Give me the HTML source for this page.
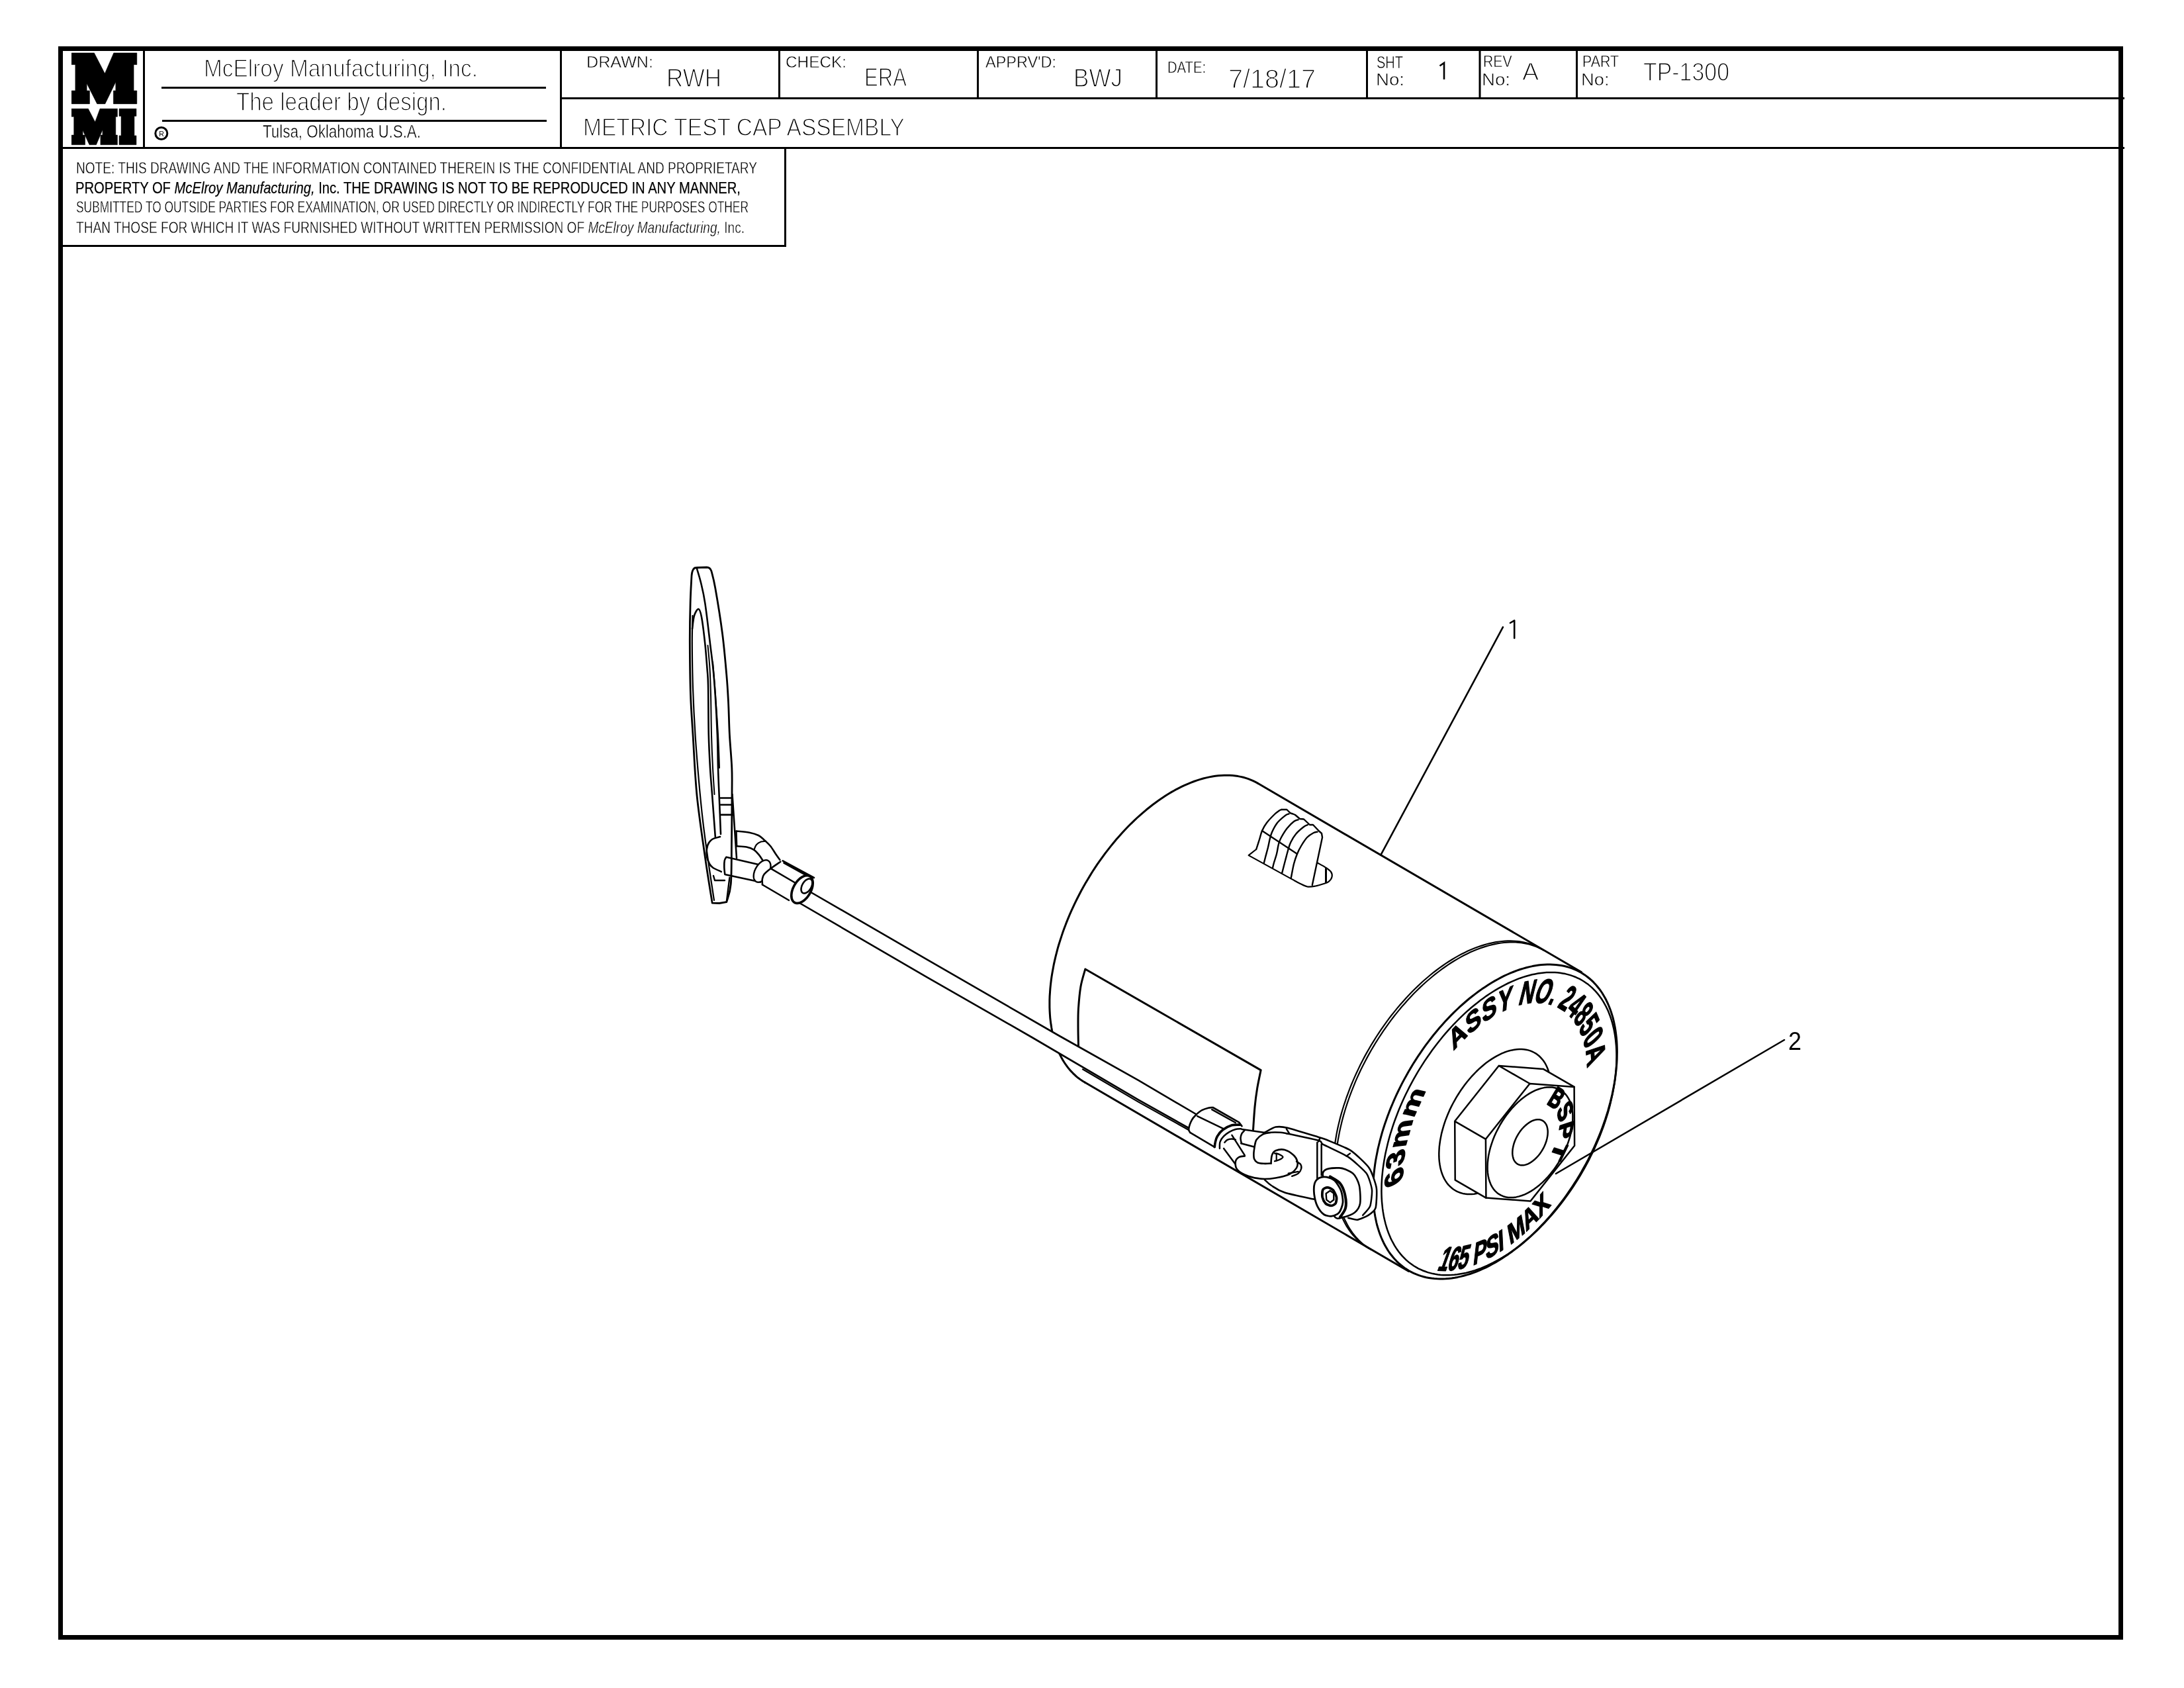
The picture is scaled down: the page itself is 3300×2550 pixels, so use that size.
<!DOCTYPE html>
<html><head><meta charset="utf-8"><title>METRIC TEST CAP ASSEMBLY</title>
<style>
html,body{margin:0;padding:0;background:#fff;width:3300px;height:2550px;overflow:hidden}
svg{display:block;filter:grayscale(1);font-family:"Liberation Sans",sans-serif}
</style></head><body>
<svg width="3300" height="2550" viewBox="0 0 3300 2550">
<rect width="3300" height="2550" fill="#fff"/>
<!-- outer border -->
<rect x="91.5" y="73.5" width="3113" height="2400" fill="none" stroke="#000" stroke-width="7"/>
<!-- title block lines -->
<g stroke="#000" stroke-width="3" fill="none">
<line x1="95" y1="223.5" x2="3210" y2="223.5"/>
<line x1="849" y1="148.5" x2="3210" y2="148.5"/>
<line x1="217.5" y1="77" x2="217.5" y2="222"/>
<line x1="847.5" y1="77" x2="847.5" y2="222"/>
<line x1="1177.5" y1="77" x2="1177.5" y2="147"/>
<line x1="1477.5" y1="77" x2="1477.5" y2="147"/>
<line x1="1747.5" y1="77" x2="1747.5" y2="147"/>
<line x1="2065.5" y1="77" x2="2065.5" y2="147"/>
<line x1="2236" y1="77" x2="2236" y2="147"/>
<line x1="2382.5" y1="77" x2="2382.5" y2="147"/>
<line x1="244" y1="132.5" x2="825" y2="132.5"/>
<line x1="245" y1="182.5" x2="826" y2="182.5"/>
<line x1="1186.5" y1="225" x2="1186.5" y2="373"/>
<line x1="95" y1="371.5" x2="1188" y2="371.5"/>
</g>
<!-- logo -->
<g transform="translate(100,76) scale(0.0865)" fill="#000" stroke="#000" stroke-width="6" stroke-linejoin="round">
<path d="M95,45 L490,45 L675,405 L830,45 L1235,45 L1235,250 L1180,250 L1180,705 L1235,705 L1235,935 L825,935 L825,705 L865,705 L865,555 L680,935 L540,935 L360,580 L360,705 L410,705 L410,935 L95,935 L95,705 L160,705 L160,250 L95,250 Z"/>
<path d="M95,1020 L385,1020 L505,1250 L590,1020 L895,1020 L895,1160 L865,1160 L865,1480 L895,1480 L895,1650 L600,1650 L600,1480 L635,1480 L635,1390 L525,1650 L405,1650 L290,1400 L290,1480 L330,1480 L330,1650 L95,1650 L95,1480 L135,1480 L135,1160 L95,1160 Z"/>
<path d="M925,1020 L1225,1020 L1225,1150 L1190,1150 L1190,1490 L1225,1490 L1225,1650 L925,1650 L925,1490 L960,1490 L960,1150 L925,1150 Z"/>
</g>
<!-- registered mark -->
<circle cx="243.8" cy="201.5" r="9" fill="none" stroke="#000" stroke-width="3"/>
<text x="244" y="205.5" font-size="10.5" text-anchor="middle">R</text>
<!-- title texts -->
<g fill="#000" stroke="#fff" stroke-width="1.1" style="opacity:0.999">
<text x="308" y="115.5" font-size="37.8" textLength="414" lengthAdjust="spacingAndGlyphs" stroke-width="1.45">McElroy Manufacturing, Inc.</text>
<text x="357" y="167" font-size="38.5" textLength="318" lengthAdjust="spacingAndGlyphs" stroke-width="1.45">The leader by design.</text>
<text x="397" y="207.5" font-size="27" textLength="239" lengthAdjust="spacingAndGlyphs" stroke-width="0.5">Tulsa, Oklahoma U.S.A.</text>
<text x="886" y="102" font-size="24.7" textLength="101" lengthAdjust="spacingAndGlyphs" stroke-width="0.5">DRAWN:</text>
<text x="1007" y="130.5" font-size="39" textLength="83" lengthAdjust="spacingAndGlyphs" stroke-width="1.45">RWH</text>
<text x="1187" y="102" font-size="24.7" textLength="92" lengthAdjust="spacingAndGlyphs" stroke-width="0.5">CHECK:</text>
<text x="1306" y="129.5" font-size="38" textLength="64" lengthAdjust="spacingAndGlyphs" stroke-width="1.45">ERA</text>
<text x="1489" y="102" font-size="24.7" textLength="107" lengthAdjust="spacingAndGlyphs" stroke-width="0.5">APPRV'D:</text>
<text x="1622" y="130.5" font-size="39" textLength="74" lengthAdjust="spacingAndGlyphs" stroke-width="1.45">BWJ</text>
<text x="1764" y="110" font-size="24.7" textLength="58" lengthAdjust="spacingAndGlyphs" stroke-width="0.5">DATE:</text>
<text x="1856" y="132.5" font-size="40" textLength="132" lengthAdjust="spacingAndGlyphs" stroke-width="1.45">7/18/17</text>
<text x="2080" y="102.5" font-size="25.4" textLength="40" lengthAdjust="spacingAndGlyphs" stroke-width="0.5">SHT</text>
<text x="2079" y="128.75" font-size="25.4" textLength="43" lengthAdjust="spacingAndGlyphs" stroke-width="0.5">No:</text>

<text x="2241" y="100.75" font-size="24.7" textLength="43.5" lengthAdjust="spacingAndGlyphs" stroke-width="0.5">REV</text>
<text x="2239" y="128.75" font-size="25.4" textLength="43" lengthAdjust="spacingAndGlyphs" stroke-width="0.5">No:</text>
<text x="2300" y="121" font-size="37.8" stroke-width="1.45">A</text>
<text x="2391" y="100.75" font-size="24.7" textLength="55" lengthAdjust="spacingAndGlyphs" stroke-width="0.5">PART</text>
<text x="2389" y="128.75" font-size="25.4" textLength="42.5" lengthAdjust="spacingAndGlyphs" stroke-width="0.5">No:</text>
<text x="2483" y="121.75" font-size="38.9" textLength="130" lengthAdjust="spacingAndGlyphs" stroke-width="1.45">TP-1300</text>
<text x="881" y="204.5" font-size="37.8" textLength="486" lengthAdjust="spacingAndGlyphs" stroke-width="1.45">METRIC TEST CAP ASSEMBLY</text>
<text x="115" y="262" font-size="23.3" textLength="1029" lengthAdjust="spacingAndGlyphs" stroke-width="0.35">NOTE: THIS DRAWING AND THE INFORMATION CONTAINED THEREIN IS THE CONFIDENTIAL AND PROPRIETARY</text>
<text x="114" y="291.75" font-size="23.8" textLength="1005" lengthAdjust="spacingAndGlyphs" stroke="#000" stroke-width="0.25">PROPERTY OF <tspan font-style="italic">McElroy Manufacturing,</tspan> Inc. THE DRAWING IS NOT TO BE REPRODUCED IN ANY MANNER,</text>
<text x="115" y="321.25" font-size="23.3" textLength="1016" lengthAdjust="spacingAndGlyphs" stroke-width="0.35">SUBMITTED TO OUTSIDE PARTIES FOR EXAMINATION, OR USED DIRECTLY OR INDIRECTLY FOR THE PURPOSES OTHER</text>
<text x="115" y="351.75" font-size="23.3" textLength="1010" lengthAdjust="spacingAndGlyphs" stroke-width="0.35">THAN THOSE FOR WHICH IT WAS FURNISHED WITHOUT WRITTEN PERMISSION OF <tspan font-style="italic">McElroy Manufacturing,</tspan> Inc.</text>
</g>
<path d="M2175.5,99.5 L2182,95 L2182,120" fill="none" stroke="#000" stroke-width="2.6" stroke-linejoin="miter"/>
<!-- DRAWING -->
<g id="drawing" fill="none" stroke="#000" stroke-width="3" stroke-linecap="round" stroke-linejoin="round">
<defs><path id="tp1" d="M-74.35,-13.11 A75.5,75.5 0 0,1 57.84,-48.53"/><path id="tp2" d="M-43.31,61.85 A75.5,75.5 0 0,1 -75.21,-6.58"/><path id="tp3" d="M16.41,93.06 A94.5,94.5 0 0,0 93.06,16.41"/><path id="tp4" d="M-8.21,-22.55 A24,24 0 0,1 23.18,6.21"/></defs>
<path d="M1900.5,1183.3 L1897.1,1181.4 L1893.5,1179.7 L1889.9,1178.1 L1886.2,1176.7 L1882.4,1175.4 L1878.6,1174.3 L1874.6,1173.4 L1870.6,1172.6 L1866.6,1172.0 L1862.4,1171.6 L1858.2,1171.3 L1854.0,1171.2 L1849.7,1171.2 L1845.3,1171.4 L1840.9,1171.8 L1836.4,1172.3 L1831.9,1173.0 L1827.3,1173.9 L1822.7,1174.9 L1818.1,1176.0 L1813.4,1177.4 L1808.7,1178.9 L1804.0,1180.5 L1799.2,1182.4 L1794.5,1184.3 L1789.7,1186.4 L1784.9,1188.7 L1780.1,1191.1 L1775.2,1193.7 L1770.4,1196.4 L1765.6,1199.3 L1760.8,1202.3 L1756.0,1205.5 L1751.2,1208.8 L1746.4,1212.2 L1741.6,1215.8 L1736.9,1219.5 L1732.1,1223.3 L1727.4,1227.3 L1722.8,1231.3 L1718.1,1235.5 L1713.5,1239.9 L1708.9,1244.3 L1704.4,1248.8 L1699.9,1253.5 L1695.5,1258.3 L1691.1,1263.2 L1686.8,1268.1 L1682.5,1273.2 L1678.3,1278.4 L1674.2,1283.6 L1670.1,1288.9 L1666.1,1294.4 L1662.1,1299.9 L1658.2,1305.4 L1654.4,1311.1 L1650.7,1316.8 L1647.1,1322.6 L1643.6,1328.4 L1640.1,1334.3 L1636.7,1340.2 L1633.4,1346.2 L1630.3,1352.3 L1627.2,1358.3 L1624.2,1364.4 L1621.3,1370.6 L1618.5,1376.7 L1615.8,1382.9 L1613.2,1389.1 L1610.7,1395.4 L1608.4,1401.6 L1606.1,1407.8 L1604.0,1414.1 L1602.0,1420.3 L1600.0,1426.5 L1598.2,1432.7 L1596.6,1438.9 L1595.0,1445.1 L1593.6,1451.2 L1592.2,1457.4 L1591.1,1463.5 L1590.0,1469.5 L1589.0,1475.5 L1588.2,1481.5 L1587.5,1487.4 L1586.9,1493.3 L1586.5,1499.1 L1586.1,1504.8 L1585.9,1510.5 L1585.9,1516.1 L1585.9,1521.6 L1586.1,1527.1 L1586.4,1532.5 L1586.8,1537.8 L1587.4,1543.0 L1588.1,1548.1 L1588.9,1553.1 L1589.8,1558.0 L1590.9,1562.8 L1592.0,1567.5 L1593.3,1572.2 L1594.7,1576.6 L1596.3,1581.0 L1597.9,1585.3 L1599.7,1589.4 L1601.6,1593.4 L1603.6,1597.3 L1605.7,1601.1 L1608.0,1604.7 L1610.3,1608.2 L1612.8,1611.6 L1615.3,1614.8 L1618.0,1617.9 L1620.8,1620.8 L1623.7,1623.6 L1626.6,1626.3 L1629.7,1628.8 L1632.9,1631.1 L1636.1,1633.3 L1639.5,1635.3"/>
<path d="M1900.5,1183.3 L2389.5,1468.5"/>
<path d="M1639.5,1635.3 L2128.5,1920.5"/>
<path d="M1905.1,1616.6 C1904.2,1621.3 1901.0,1635.8 1899.5,1645.0 C1898.0,1654.2 1897.0,1661.7 1896.0,1672.0 C1895.0,1682.3 1893.9,1701.2 1893.5,1707.0 M1905.1,1616.6 L1639.8,1464 M1639.8,1464.0 C1638.7,1468.3 1634.7,1480.2 1633.0,1490.0 C1631.3,1499.8 1630.2,1512.7 1629.5,1523.0 C1628.8,1533.3 1629.0,1542.5 1629.0,1552.0 C1629.0,1561.5 1629.4,1575.3 1629.5,1580.0"/>
<path d="M1991.1,1303.7 C1993.0,1304.8 1999.4,1308.1 2002.7,1310.3 C2006.0,1312.5 2009.3,1314.6 2011.0,1317.0 C2012.6,1319.3 2013.2,1321.9 2012.6,1324.4 C2012.1,1326.9 2009.9,1330.1 2007.6,1331.9 C2005.4,1333.7 2002.7,1334.1 1999.4,1335.2 C1996.0,1336.3 1991.8,1337.8 1987.7,1338.5 C1983.7,1339.2 1979.3,1340.0 1975.3,1339.4 C1971.3,1338.7 1967.4,1336.2 1963.7,1334.4 C1960.0,1332.6 1954.7,1329.5 1952.9,1328.6 L1952.9,1328.6 L1886.6,1292.1 L1898.2,1283.0" stroke-width="2.2"/>
<path d="M1936.3,1223.0 C1935.8,1223.2 1934.7,1223.3 1933.0,1224.5 C1931.3,1225.7 1929.2,1226.9 1926.0,1230.0 C1922.8,1233.1 1917.2,1238.8 1914.0,1243.0 C1910.8,1247.2 1908.8,1250.8 1907.0,1255.0 C1905.2,1259.2 1904.5,1263.3 1903.0,1268.0 C1901.5,1272.7 1899.0,1280.5 1898.2,1283.0" stroke-width="2.4"/>
<path d="M1947.6,1229.4 C1946.7,1229.8 1944.9,1229.7 1942.0,1232.0 C1939.1,1234.3 1933.3,1238.8 1930.0,1243.0 C1926.7,1247.2 1923.9,1252.8 1922.0,1257.0 C1920.1,1261.2 1919.6,1264.2 1918.6,1268.0 C1917.6,1271.8 1917.1,1275.5 1916.0,1280.0 C1914.9,1284.5 1913.0,1291.0 1912.0,1295.0 C1911.0,1299.0 1910.2,1302.2 1909.8,1303.7" stroke-width="2.4"/>
<path d="M1961.5,1238.3 C1960.4,1238.8 1957.8,1238.9 1955.0,1241.0 C1952.2,1243.1 1948.2,1247.0 1945.0,1251.0 C1941.8,1255.0 1938.2,1261.0 1936.0,1265.0 C1933.8,1269.0 1933.2,1270.8 1932.0,1275.0 C1930.8,1279.2 1930.2,1285.3 1929.0,1290.0 C1927.8,1294.7 1926.0,1299.5 1925.0,1303.0 C1924.0,1306.5 1923.3,1309.8 1923.0,1311.2" stroke-width="2.4"/>
<path d="M1976.0,1246.0 C1975.0,1246.5 1973.0,1246.7 1970.0,1249.0 C1967.0,1251.3 1961.3,1256.0 1958.0,1260.0 C1954.7,1264.0 1952.0,1268.8 1950.0,1273.0 C1948.0,1277.2 1947.3,1280.5 1946.0,1285.0 C1944.7,1289.5 1943.5,1294.4 1942.0,1300.0 C1940.5,1305.6 1938.0,1315.5 1937.2,1318.6" stroke-width="2.4"/>
<path d="M1990.6,1256.6 C1989.7,1256.8 1987.6,1256.6 1985.0,1258.0 C1982.4,1259.4 1978.2,1261.7 1975.0,1265.0 C1971.8,1268.3 1968.5,1273.8 1966.0,1278.0 C1963.5,1282.2 1961.8,1285.5 1960.0,1290.0 C1958.2,1294.5 1956.5,1299.0 1955.0,1305.0 C1953.5,1311.0 1951.5,1322.6 1950.8,1326.1" stroke-width="2.4"/>
<path d="M1936.3,1223.0 L1944.3,1223.0 L1950.0,1228.5 L1953.5,1229.5 L1957.0,1231.0 L1964.0,1237.0 L1970.0,1237.5 L1979.0,1246.0 L1984.0,1246.0 L1993.0,1255.5 L1997.0,1259.0 L1998.0,1265.0 L1982.8,1336.9" stroke-width="2.4"/>
<path d="M1907.0,1255.0 L1960.0,1290.0" stroke-width="2.4"/>
<path d="M2003.5,1312.0 L2003.5,1332.7" stroke-width="3"/>
<path d="M2328.9,1433.5 L2325.4,1431.6 L2321.9,1429.9 L2318.3,1428.3 L2314.6,1426.9 L2310.8,1425.6 L2307.0,1424.5 L2303.0,1423.6 L2299.0,1422.8 L2294.9,1422.2 L2290.8,1421.8 L2286.6,1421.5 L2282.3,1421.4 L2278.0,1421.4 L2273.7,1421.6 L2269.2,1422.0 L2264.8,1422.5 L2260.2,1423.2 L2255.7,1424.1 L2251.1,1425.1 L2246.4,1426.2 L2241.8,1427.6 L2237.1,1429.1 L2232.3,1430.7 L2227.6,1432.6 L2222.8,1434.5 L2218.0,1436.6 L2213.2,1438.9 L2208.4,1441.3 L2203.6,1443.9 L2198.8,1446.6 L2194.0,1449.5 L2189.2,1452.5 L2184.4,1455.7 L2179.6,1459.0 L2174.8,1462.4 L2170.0,1466.0 L2165.2,1469.7 L2160.5,1473.5 L2155.8,1477.5 L2151.1,1481.5 L2146.5,1485.7 L2141.9,1490.1 L2137.3,1494.5 L2132.8,1499.0 L2128.3,1503.7 L2123.9,1508.5 L2119.5,1513.4 L2115.2,1518.3 L2110.9,1523.4 L2106.7,1528.6 L2102.5,1533.8 L2098.4,1539.1 L2094.4,1544.6 L2090.5,1550.1 L2086.6,1555.6 L2082.8,1561.3 L2079.1,1567.0 L2075.5,1572.8 L2071.9,1578.6 L2068.5,1584.5 L2065.1,1590.4 L2061.8,1596.4 L2058.6,1602.5 L2055.5,1608.5 L2052.6,1614.6 L2049.7,1620.8 L2046.9,1626.9 L2044.2,1633.1 L2041.6,1639.3 L2039.1,1645.6 L2036.8,1651.8 L2034.5,1658.0 L2032.4,1664.3 L2030.3,1670.5 L2028.4,1676.7 L2026.6,1682.9 L2024.9,1689.1 L2023.4,1695.3 L2021.9,1701.4 L2020.6,1707.6 L2019.4,1713.7 L2018.4,1719.7 L2017.4,1725.7 L2016.6,1731.7 L2015.9,1737.6 L2015.3,1743.5 L2014.8,1749.3 L2014.5,1755.0 L2014.3,1760.7 L2014.2,1766.3 L2014.3,1771.8 L2014.5,1777.3 L2014.8,1782.7 L2015.2,1788.0 L2015.8,1793.2 L2016.4,1798.3 L2017.3,1803.3 L2018.2,1808.2 L2019.2,1813.0 L2020.4,1817.8 L2021.7,1822.4 L2023.1,1826.8 L2024.7,1831.2 L2026.3,1835.5 L2028.1,1839.6 L2030.0,1843.6 L2032.0,1847.5 L2034.1,1851.3 L2036.4,1854.9 L2038.7,1858.4 L2041.2,1861.8 L2043.7,1865.0 L2046.4,1868.1 L2049.2,1871.0 L2052.0,1873.8 L2055.0,1876.5 L2058.1,1879.0 L2061.3,1881.3 L2064.5,1883.5 L2067.9,1885.5" stroke-width="2.2"/>
<path d="M2332.3,1435.5 L2328.9,1433.6 L2325.4,1431.9 L2321.7,1430.3 L2318.0,1428.9 L2314.3,1427.6 L2310.4,1426.5 L2306.5,1425.6 L2302.5,1424.8 L2298.4,1424.2 L2294.3,1423.8 L2290.1,1423.5 L2285.8,1423.4 L2281.5,1423.4 L2277.1,1423.6 L2272.7,1424.0 L2268.2,1424.5 L2263.7,1425.2 L2259.1,1426.1 L2254.5,1427.1 L2249.9,1428.2 L2245.2,1429.6 L2240.5,1431.1 L2235.8,1432.7 L2231.1,1434.6 L2226.3,1436.5 L2221.5,1438.6 L2216.7,1440.9 L2211.9,1443.3 L2207.1,1445.9 L2202.3,1448.6 L2197.4,1451.5 L2192.6,1454.5 L2187.8,1457.7 L2183.0,1461.0 L2178.2,1464.4 L2173.5,1468.0 L2168.7,1471.7 L2164.0,1475.5 L2159.3,1479.5 L2154.6,1483.5 L2149.9,1487.7 L2145.3,1492.1 L2140.8,1496.5 L2136.2,1501.0 L2131.8,1505.7 L2127.3,1510.5 L2123.0,1515.4 L2118.6,1520.3 L2114.4,1525.4 L2110.1,1530.6 L2106.0,1535.8 L2101.9,1541.1 L2097.9,1546.6 L2094.0,1552.1 L2090.1,1557.6 L2086.3,1563.3 L2082.6,1569.0 L2078.9,1574.8 L2075.4,1580.6 L2071.9,1586.5 L2068.6,1592.4 L2065.3,1598.4 L2062.1,1604.5 L2059.0,1610.5 L2056.0,1616.6 L2053.1,1622.8 L2050.3,1628.9 L2047.6,1635.1 L2045.1,1641.3 L2042.6,1647.6 L2040.2,1653.8 L2038.0,1660.0 L2035.8,1666.3 L2033.8,1672.5 L2031.9,1678.7 L2030.1,1684.9 L2028.4,1691.1 L2026.9,1697.3 L2025.4,1703.4 L2024.1,1709.6 L2022.9,1715.7 L2021.8,1721.7 L2020.9,1727.7 L2020.0,1733.7 L2019.3,1739.6 L2018.8,1745.5 L2018.3,1751.3 L2018.0,1757.0 L2017.8,1762.7 L2017.7,1768.3 L2017.8,1773.8 L2017.9,1779.3 L2018.2,1784.7 L2018.7,1790.0 L2019.2,1795.2 L2019.9,1800.3 L2020.7,1805.3 L2021.6,1810.2 L2022.7,1815.0 L2023.9,1819.8 L2025.2,1824.4 L2026.6,1828.8 L2028.1,1833.2 L2029.8,1837.5 L2031.6,1841.6 L2033.5,1845.6 L2035.5,1849.5 L2037.6,1853.3 L2039.8,1856.9 L2042.2,1860.4 L2044.6,1863.8 L2047.2,1867.0 L2049.9,1870.1 L2052.6,1873.0 L2055.5,1875.8 L2058.5,1878.5 L2061.6,1881.0 L2064.7,1883.3 L2068.0,1885.5 L2071.3,1887.5" stroke-width="2.2"/>
<path d="M2129.0,1919.7 L2132.5,1921.6 L2136.0,1923.3 L2139.7,1924.9 L2143.4,1926.3 L2147.2,1927.6 L2151.1,1928.7 L2155.0,1929.7 L2159.0,1930.4 L2163.1,1931.1 L2167.3,1931.5 L2171.5,1931.8 L2175.8,1932.0 L2180.1,1932.0 L2184.5,1931.8 L2188.9,1931.4 L2193.4,1930.9 L2198.0,1930.2 L2202.5,1929.4 L2207.2,1928.4 L2211.8,1927.2 L2216.5,1925.9 L2221.2,1924.5 L2225.9,1922.8 L2230.7,1921.0 L2235.5,1919.1 L2240.3,1917.0 L2245.1,1914.8 L2249.9,1912.4 L2254.7,1909.8 L2259.5,1907.1 L2264.4,1904.3 L2269.2,1901.3 L2274.0,1898.1 L2278.8,1894.9 L2283.6,1891.5 L2288.4,1887.9 L2293.1,1884.3 L2297.9,1880.5 L2302.6,1876.5 L2307.2,1872.5 L2311.9,1868.3 L2316.5,1864.0 L2321.1,1859.6 L2325.6,1855.1 L2330.1,1850.4 L2334.5,1845.7 L2338.9,1840.8 L2343.2,1835.9 L2347.5,1830.8 L2351.7,1825.7 L2355.8,1820.5 L2359.9,1815.2 L2363.9,1809.8 L2367.8,1804.3 L2371.7,1798.7 L2375.5,1793.1 L2379.2,1787.4 L2382.8,1781.7 L2386.3,1775.9 L2389.8,1770.0 L2393.1,1764.1 L2396.4,1758.1 L2399.6,1752.1 L2402.6,1746.1 L2405.6,1740.0 L2408.5,1733.8 L2411.3,1727.7 L2413.9,1721.5 L2416.5,1715.3 L2419.0,1709.1 L2421.3,1702.9 L2423.5,1696.7 L2425.7,1690.5 L2427.7,1684.3 L2429.6,1678.1 L2431.3,1671.9 L2433.0,1665.7 L2434.5,1659.5 L2436.0,1653.4 L2437.2,1647.3 L2438.4,1641.2 L2439.5,1635.2 L2440.4,1629.2 L2441.2,1623.2 L2441.9,1617.3 L2442.4,1611.5 L2442.9,1605.7 L2443.2,1599.9 L2443.3,1594.3 L2443.4,1588.7 L2443.3,1583.1 L2443.1,1577.7 L2442.8,1572.3 L2442.3,1567.0 L2441.7,1561.8 L2441.0,1556.7 L2440.2,1551.7 L2439.2,1546.8 L2438.2,1542.0 L2437.0,1537.2 L2435.6,1532.6 L2434.2,1528.2 L2432.6,1523.8 L2430.9,1519.5 L2429.1,1515.4 L2427.2,1511.3 L2425.2,1507.5 L2423.0,1503.7 L2420.8,1500.0 L2418.4,1496.5 L2415.9,1493.2 L2413.3,1490.0 L2410.7,1486.9 L2407.9,1483.9 L2405.0,1481.1 L2402.0,1478.5 L2398.9,1476.0 L2395.7,1473.6 L2392.4,1471.4 L2389.0,1469.3 L2385.5,1467.4 L2382.0,1465.7 L2378.3,1464.1 L2374.6,1462.7 L2370.8,1461.4 L2366.9,1460.3 L2363.0,1459.3 L2359.0,1458.6 L2354.9,1457.9 L2350.7,1457.5 L2346.5,1457.2 L2342.2,1457.0 L2337.9,1457.0 L2333.5,1457.2 L2329.1,1457.6 L2324.6,1458.1 L2320.0,1458.8 L2315.5,1459.6 L2310.8,1460.6 L2306.2,1461.8 L2301.5,1463.1 L2296.8,1464.5 L2292.1,1466.2 L2287.3,1468.0 L2282.5,1469.9 L2277.7,1472.0 L2272.9,1474.2 L2268.1,1476.6 L2263.3,1479.2 L2258.5,1481.9 L2253.6,1484.7 L2248.8,1487.7 L2244.0,1490.9 L2239.2,1494.1 L2234.4,1497.5 L2229.6,1501.1 L2224.9,1504.7 L2220.1,1508.5 L2215.4,1512.5 L2210.8,1516.5 L2206.1,1520.7 L2201.5,1525.0 L2196.9,1529.4 L2192.4,1533.9 L2187.9,1538.6 L2183.5,1543.3 L2179.1,1548.2 L2174.8,1553.1 L2170.5,1558.2 L2166.3,1563.3 L2162.2,1568.5 L2158.1,1573.8 L2154.1,1579.2 L2150.2,1584.7 L2146.3,1590.3 L2142.5,1595.9 L2138.8,1601.6 L2135.2,1607.3 L2131.7,1613.1 L2128.2,1619.0 L2124.9,1624.9 L2121.6,1630.9 L2118.4,1636.9 L2115.4,1642.9 L2112.4,1649.0 L2109.5,1655.2 L2106.7,1661.3 L2104.1,1667.5 L2101.5,1673.7 L2099.0,1679.9 L2096.7,1686.1 L2094.5,1692.3 L2092.3,1698.5 L2090.3,1704.7 L2088.4,1710.9 L2086.7,1717.1 L2085.0,1723.3 L2083.5,1729.5 L2082.0,1735.6 L2080.8,1741.7 L2079.6,1747.8 L2078.5,1753.8 L2077.6,1759.8 L2076.8,1765.8 L2076.1,1771.7 L2075.6,1777.5 L2075.1,1783.3 L2074.8,1789.1 L2074.7,1794.7 L2074.6,1800.3 L2074.7,1805.9 L2074.9,1811.3 L2075.2,1816.7 L2075.7,1822.0 L2076.3,1827.2 L2077.0,1832.3 L2077.8,1837.3 L2078.8,1842.2 L2079.8,1847.0 L2081.0,1851.8 L2082.4,1856.4 L2083.8,1860.8 L2085.4,1865.2 L2087.1,1869.5 L2088.9,1873.6 L2090.8,1877.7 L2092.8,1881.5 L2095.0,1885.3 L2097.2,1889.0 L2099.6,1892.5 L2102.1,1895.8 L2104.7,1899.0 L2107.3,1902.1 L2110.1,1905.1 L2113.0,1907.9 L2116.0,1910.5 L2119.1,1913.0 L2122.3,1915.4 L2125.6,1917.6 L2129.0,1919.7 Z" stroke-width="3"/>
<path d="M2139.8,1914.4 L2143.1,1916.3 L2146.6,1917.9 L2150.1,1919.5 L2153.7,1920.8 L2157.3,1922.1 L2161.1,1923.1 L2164.9,1924.1 L2168.7,1924.8 L2172.7,1925.4 L2176.7,1925.9 L2180.7,1926.2 L2184.9,1926.3 L2189.0,1926.3 L2193.3,1926.1 L2197.5,1925.8 L2201.9,1925.3 L2206.2,1924.6 L2210.6,1923.8 L2215.1,1922.9 L2219.5,1921.7 L2224.1,1920.5 L2228.6,1919.1 L2233.2,1917.5 L2237.7,1915.8 L2242.3,1913.9 L2247.0,1911.9 L2251.6,1909.7 L2256.2,1907.4 L2260.9,1904.9 L2265.5,1902.3 L2270.2,1899.6 L2274.8,1896.7 L2279.5,1893.7 L2284.1,1890.6 L2288.7,1887.3 L2293.3,1883.9 L2297.9,1880.3 L2302.4,1876.7 L2307.0,1872.9 L2311.5,1869.0 L2315.9,1865.0 L2320.4,1860.8 L2324.8,1856.6 L2329.1,1852.2 L2333.4,1847.8 L2337.7,1843.2 L2341.9,1838.5 L2346.1,1833.8 L2350.2,1828.9 L2354.2,1824.0 L2358.2,1818.9 L2362.2,1813.8 L2366.0,1808.6 L2369.8,1803.3 L2373.5,1798.0 L2377.2,1792.6 L2380.7,1787.1 L2384.2,1781.6 L2387.6,1776.0 L2390.9,1770.3 L2394.2,1764.6 L2397.3,1758.9 L2400.4,1753.1 L2403.3,1747.2 L2406.2,1741.4 L2409.0,1735.5 L2411.6,1729.6 L2414.2,1723.6 L2416.7,1717.7 L2419.0,1711.7 L2421.3,1705.7 L2423.5,1699.7 L2425.5,1693.8 L2427.4,1687.8 L2429.3,1681.8 L2431.0,1675.8 L2432.6,1669.9 L2434.0,1663.9 L2435.4,1658.0 L2436.7,1652.1 L2437.8,1646.3 L2438.8,1640.5 L2439.7,1634.7 L2440.5,1629.0 L2441.1,1623.3 L2441.7,1617.6 L2442.1,1612.1 L2442.4,1606.5 L2442.5,1601.1 L2442.6,1595.7 L2442.5,1590.4 L2442.3,1585.1 L2442.0,1579.9 L2441.5,1574.8 L2441.0,1569.8 L2440.3,1564.9 L2439.5,1560.1 L2438.6,1555.3 L2437.5,1550.7 L2436.4,1546.2 L2435.1,1541.7 L2433.7,1537.4 L2432.2,1533.2 L2430.6,1529.1 L2428.9,1525.1 L2427.0,1521.2 L2425.0,1517.5 L2423.0,1513.8 L2420.8,1510.3 L2418.5,1507.0 L2416.1,1503.7 L2413.6,1500.6 L2411.0,1497.6 L2408.3,1494.8 L2405.6,1492.1 L2402.7,1489.6 L2399.7,1487.1 L2396.6,1484.9 L2393.4,1482.7 L2390.2,1480.8 L2386.9,1478.9 L2383.4,1477.3 L2379.9,1475.7 L2376.3,1474.4 L2372.7,1473.1 L2368.9,1472.1 L2365.1,1471.1 L2361.3,1470.4 L2357.3,1469.8 L2353.3,1469.3 L2349.3,1469.0 L2345.1,1468.9 L2341.0,1468.9 L2336.7,1469.1 L2332.5,1469.4 L2328.1,1469.9 L2323.8,1470.6 L2319.4,1471.4 L2314.9,1472.3 L2310.5,1473.5 L2305.9,1474.7 L2301.4,1476.1 L2296.8,1477.7 L2292.3,1479.4 L2287.7,1481.3 L2283.0,1483.3 L2278.4,1485.5 L2273.8,1487.8 L2269.1,1490.3 L2264.5,1492.9 L2259.8,1495.6 L2255.2,1498.5 L2250.5,1501.5 L2245.9,1504.6 L2241.3,1507.9 L2236.7,1511.3 L2232.1,1514.9 L2227.6,1518.5 L2223.0,1522.3 L2218.5,1526.2 L2214.1,1530.2 L2209.6,1534.4 L2205.2,1538.6 L2200.9,1543.0 L2196.6,1547.4 L2192.3,1552.0 L2188.1,1556.7 L2183.9,1561.4 L2179.8,1566.3 L2175.8,1571.2 L2171.8,1576.3 L2167.8,1581.4 L2164.0,1586.6 L2160.2,1591.9 L2156.5,1597.2 L2152.8,1602.6 L2149.3,1608.1 L2145.8,1613.6 L2142.4,1619.2 L2139.1,1624.9 L2135.8,1630.6 L2132.7,1636.3 L2129.6,1642.1 L2126.7,1648.0 L2123.8,1653.8 L2121.0,1659.7 L2118.4,1665.6 L2115.8,1671.6 L2113.3,1677.5 L2111.0,1683.5 L2108.7,1689.5 L2106.5,1695.5 L2104.5,1701.4 L2102.6,1707.4 L2100.7,1713.4 L2099.0,1719.4 L2097.4,1725.3 L2096.0,1731.3 L2094.6,1737.2 L2093.3,1743.1 L2092.2,1748.9 L2091.2,1754.7 L2090.3,1760.5 L2089.5,1766.2 L2088.9,1771.9 L2088.3,1777.6 L2087.9,1783.1 L2087.6,1788.7 L2087.5,1794.1 L2087.4,1799.5 L2087.5,1804.8 L2087.7,1810.1 L2088.0,1815.3 L2088.5,1820.4 L2089.0,1825.4 L2089.7,1830.3 L2090.5,1835.1 L2091.4,1839.9 L2092.5,1844.5 L2093.6,1849.0 L2094.9,1853.5 L2096.3,1857.8 L2097.8,1862.0 L2099.4,1866.1 L2101.1,1870.1 L2103.0,1874.0 L2105.0,1877.7 L2107.0,1881.4 L2109.2,1884.9 L2111.5,1888.2 L2113.9,1891.5 L2116.4,1894.6 L2119.0,1897.6 L2121.7,1900.4 L2124.4,1903.1 L2127.3,1905.6 L2130.3,1908.1 L2133.4,1910.3 L2136.6,1912.5 L2139.8,1914.4 Z" stroke-width="2.5"/>
<path d="M2341.2,1623.1 L2340.2,1619.4 L2339.0,1615.7 L2337.6,1612.3 L2336.1,1609.0 L2334.4,1605.9 L2332.5,1603.0 L2330.4,1600.3 L2328.2,1597.8 L2325.9,1595.5 L2323.4,1593.5 L2320.8,1591.6 L2318.0,1590.0 L2315.2,1588.6 L2312.2,1587.4 L2309.0,1586.4 L2305.8,1585.7 L2302.5,1585.2 L2299.1,1585.0 L2295.6,1585.0 L2292.0,1585.2 L2288.3,1585.7 L2284.6,1586.4 L2280.8,1587.3 L2277.0,1588.4 L2273.1,1589.8 L2269.2,1591.4 L2265.3,1593.3 L2261.4,1595.3 L2257.5,1597.6 L2253.5,1600.1 L2249.6,1602.8 L2245.7,1605.6 L2241.8,1608.7 L2238.0,1612.0 L2234.2,1615.4 L2230.5,1619.0 L2226.8,1622.8 L2223.2,1626.7 L2219.7,1630.8 L2216.2,1635.0 L2212.9,1639.3 L2209.7,1643.8 L2206.5,1648.3 L2203.5,1653.0 L2200.6,1657.7 L2197.8,1662.6 L2195.1,1667.5 L2192.6,1672.4 L2190.2,1677.4 L2188.0,1682.5 L2186.0,1687.5 L2184.0,1692.6 L2182.3,1697.7 L2180.7,1702.8 L2179.3,1707.9 L2178.0,1712.9 L2177.0,1717.9 L2176.1,1722.8 L2175.4,1727.7 L2174.8,1732.5 L2174.5,1737.3 L2174.3,1741.9 L2174.3,1746.4 L2174.5,1750.8 L2174.9,1755.1 L2175.5,1759.3 L2176.2,1763.3 L2177.1,1767.2 L2178.2,1771.0 L2179.5,1774.5 L2180.9,1777.9 L2182.5,1781.1 L2184.3,1784.1 L2186.2,1787.0 L2188.3,1789.6 L2190.6,1792.0 L2193.0,1794.2 L2195.5,1796.2 L2198.2,1798.0 L2201.0,1799.6 L2203.9,1800.9 L2206.9,1802.0 L2210.1,1802.9 L2213.4,1803.5 L2216.7,1803.9 L2220.2,1804.0 L2223.7,1804.0 L2227.3,1803.7 L2231.0,1803.1 L2234.8,1802.3" stroke-width="2.5"/>
<path d="M2331.8,1614.9 L2378.6,1641.9 L2379.1,1730.7 L2312.5,1814.5 L2245.4,1809.6 L2198.7,1782.6 L2198.2,1693.8 L2264.7,1610.0 Z" stroke-width="0.1" fill="#fff" stroke="none"/>
<path d="M2331.8,1614.9 L2264.7,1610.0 L2198.2,1693.8 L2198.7,1782.6 M2331.8,1614.9 L2378.6,1641.9 M2264.7,1610.0 L2311.5,1637.0 M2198.2,1693.8 L2244.9,1720.8 M2198.7,1782.6 L2245.4,1809.6" stroke-width="2.5"/>
<path d="M2311.5,1637.0 L2378.6,1641.9 L2379.1,1730.7 L2312.5,1814.5 L2245.4,1809.6 L2244.9,1720.8 Z" stroke-width="2.5"/>
<path d="M2266.5,1699.5 L2269.8,1694.0 L2273.3,1688.7 L2277.0,1683.6 L2280.9,1678.7 L2284.9,1674.0 L2289.0,1669.6 L2293.3,1665.4 L2297.6,1661.6 L2302.1,1658.0 L2306.5,1654.8 L2311.0,1651.9 L2315.5,1649.4 L2320.0,1647.2 L2324.4,1645.5 L2328.8,1644.1 L2333.1,1643.1 L2337.3,1642.6 L2341.4,1642.4 L2345.3,1642.6 L2349.1,1643.3 L2352.7,1644.3 L2356.1,1645.8 L2359.2,1647.6 L2362.2,1649.8 L2364.9,1652.4 L2367.3,1655.3 L2369.5,1658.6 L2371.4,1662.2 L2373.0,1666.2 L2374.3,1670.4 L2375.3,1674.8 L2376.0,1679.6 L2376.4,1684.5 L2376.4,1689.7 L2376.2,1695.0 L2375.6,1700.5 L2374.8,1706.1 L2373.6,1711.8 L2372.1,1717.6 L2370.3,1723.4 L2368.3,1729.2 L2366.0,1735.0 L2363.4,1740.7 L2360.5,1746.4 L2357.5,1752.0 L2354.2,1757.5 L2350.7,1762.8 L2347.0,1767.9 L2343.1,1772.8 L2339.1,1777.5 L2335.0,1781.9 L2330.7,1786.1 L2326.4,1789.9 L2321.9,1793.5 L2317.5,1796.7 L2313.0,1799.6 L2308.5,1802.1 L2304.0,1804.3 L2299.6,1806.0 L2295.2,1807.4 L2290.9,1808.4 L2286.7,1808.9 L2282.6,1809.1 L2278.7,1808.9 L2274.9,1808.2 L2271.3,1807.2 L2267.9,1805.7 L2264.8,1803.9 L2261.8,1801.7 L2259.1,1799.1 L2256.7,1796.2 L2254.5,1792.9 L2252.6,1789.3 L2251.0,1785.3 L2249.7,1781.1 L2248.7,1776.7 L2248.0,1771.9 L2247.6,1767.0 L2247.6,1761.8 L2247.8,1756.5 L2248.4,1751.0 L2249.2,1745.4 L2250.4,1739.7 L2251.9,1733.9 L2253.7,1728.1 L2255.7,1722.3 L2258.0,1716.5 L2260.6,1710.8 L2263.5,1705.1 L2266.5,1699.5 Z" stroke-width="2.5"/>
<path d="M2293.2,1714.9 L2294.5,1712.6 L2296.0,1710.4 L2297.5,1708.3 L2299.1,1706.3 L2300.8,1704.3 L2302.5,1702.5 L2304.3,1700.8 L2306.1,1699.2 L2307.9,1697.7 L2309.7,1696.4 L2311.6,1695.2 L2313.5,1694.1 L2315.3,1693.2 L2317.2,1692.5 L2319.0,1691.9 L2320.8,1691.5 L2322.5,1691.3 L2324.2,1691.2 L2325.8,1691.3 L2327.4,1691.6 L2328.8,1692.0 L2330.3,1692.6 L2331.6,1693.4 L2332.8,1694.3 L2333.9,1695.4 L2334.9,1696.6 L2335.8,1697.9 L2336.6,1699.4 L2337.3,1701.1 L2337.8,1702.8 L2338.2,1704.7 L2338.5,1706.6 L2338.7,1708.7 L2338.7,1710.8 L2338.6,1713.0 L2338.4,1715.3 L2338.0,1717.6 L2337.5,1720.0 L2336.9,1722.4 L2336.2,1724.8 L2335.3,1727.2 L2334.4,1729.6 L2333.3,1732.0 L2332.1,1734.3 L2330.8,1736.6 L2329.5,1738.9 L2328.0,1741.1 L2326.5,1743.2 L2324.9,1745.2 L2323.2,1747.2 L2321.5,1749.0 L2319.7,1750.7 L2317.9,1752.3 L2316.1,1753.8 L2314.3,1755.1 L2312.4,1756.3 L2310.5,1757.4 L2308.7,1758.3 L2306.8,1759.0 L2305.0,1759.6 L2303.2,1760.0 L2301.5,1760.2 L2299.8,1760.3 L2298.2,1760.2 L2296.6,1759.9 L2295.2,1759.5 L2293.7,1758.9 L2292.4,1758.1 L2291.2,1757.2 L2290.1,1756.1 L2289.1,1754.9 L2288.2,1753.6 L2287.4,1752.1 L2286.7,1750.4 L2286.2,1748.7 L2285.8,1746.8 L2285.5,1744.9 L2285.3,1742.8 L2285.3,1740.7 L2285.4,1738.5 L2285.6,1736.2 L2286.0,1733.9 L2286.5,1731.5 L2287.1,1729.1 L2287.8,1726.7 L2288.7,1724.3 L2289.6,1721.9 L2290.7,1719.5 L2291.9,1717.2 L2293.2,1714.9 Z" stroke-width="2.5"/>
<g transform="matrix(1.2990,0.7500,-1.3050,2.2603,2259.00,1694.50)" font-family="Liberation Sans" font-weight="bold" fill="#000" stroke="#000" stroke-width="0.7" stroke-linejoin="round">
<text font-size="21.5"><textPath href="#tp1" startOffset="10.54" textLength="154.17" lengthAdjust="spacingAndGlyphs">ASSY NO. 24850A</textPath></text>
<text font-size="21.5"><textPath href="#tp2" startOffset="9.22" textLength="59.30" lengthAdjust="spacingAndGlyphs">63mm</textPath></text>
<text font-size="21.5"><textPath href="#tp3" startOffset="7.75" textLength="98.30" lengthAdjust="spacingAndGlyphs">165 PSI MAX</textPath></text>
</g>
<g transform="matrix(1.2990,0.7500,-1.3050,2.2603,2312.00,1725.75)" font-family="Liberation Sans" font-weight="bold" fill="#000" stroke="#000" stroke-width="0.9" stroke-linejoin="round">
<text font-size="17"><textPath href="#tp4" startOffset="2.93" textLength="45.24" lengthAdjust="spacingAndGlyphs">BSPT</textPath></text>
</g>
<path d="M1224.5,1347.5 L1400.0,1449.2 L1600.0,1564.5 L1720.0,1631.9 L1807.0,1683.0 L1796.0,1704.0 L1720.0,1661.3 L1560.0,1567.5 L1400.0,1475.8 L1198.4,1358.5 Z" stroke-width="0.1" fill="#fff" stroke="none"/>
<path d="M1224.5,1347.5 L1400.0,1449.2 L1600.0,1564.5 L1720.0,1631.9 L1807.0,1683.0" stroke-width="2.6"/>
<path d="M1198.4,1358.5 L1400.0,1475.8 L1560.0,1567.5 L1720.0,1661.3 L1796.0,1704.0" stroke-width="2.6"/>
<path d="M1636.0,1615.3 L1720.0,1664.6 L1796.0,1707.0" stroke-width="2.2"/>
<path d="M1807.9,1683.4 L1825.7,1673.7 L1832.6,1673.0 L1872.4,1695.7 L1876.5,1701.2 L1872.4,1698.5 L1861.4,1699.8 L1844.9,1709.5 L1836.7,1720.4 L1835.3,1732.8 L1798.2,1710.8 L1796.2,1705.3 L1801.0,1691.6 Z" stroke-width="0.1" fill="#fff" stroke="none"/>
<path d="M1798.2,1710.8 C1797.9,1709.9 1795.7,1708.5 1796.2,1705.3 C1796.6,1702.1 1799.0,1695.3 1801.0,1691.6 C1802.9,1687.9 1806.7,1684.7 1807.9,1683.4 M1807.9,1683.4 C1809.2,1682.3 1813.1,1678.8 1816.1,1677.2 C1819.1,1675.6 1823.0,1674.4 1825.7,1673.7 C1828.5,1673.0 1831.4,1673.2 1832.6,1673.0 L1872.4,1695.7 L1876.5,1701.2" stroke-width="2.6"/>
<path d="M1809.2,1686.1 L1849.1,1705.3 M1831.2,1676.2 L1866.9,1696.0 M1798.2,1710.8 L1835.3,1732.8" stroke-width="2.5"/>
<path d="M1835.3,1732.8 C1835.5,1731.7 1835.5,1728.7 1836.2,1725.9 C1836.8,1723.2 1837.5,1719.5 1839.5,1716.3 C1841.4,1713.1 1844.0,1709.5 1847.7,1706.7 C1851.4,1704.0 1857.1,1701.1 1861.4,1699.8 C1865.8,1698.6 1871.7,1699.3 1873.8,1699.1" stroke-width="3.6"/>
<path d="M1842.9,1734.9 C1843.0,1733.1 1842.5,1727.7 1843.6,1724.6 C1844.6,1721.5 1846.8,1718.7 1849.1,1716.3 C1851.4,1713.9 1854.3,1711.9 1857.3,1710.1 C1860.3,1708.4 1863.9,1706.8 1866.9,1706.0 C1869.9,1705.2 1873.8,1705.4 1875.2,1705.3" stroke-width="2.5"/>
<path d="M1876.5,1706.7 L1894.4,1708.8 L1910.9,1710.8 L1908.1,1731.4 L1894.4,1732.8 L1875.2,1727.3 Z" stroke-width="0.1" fill="#fff" stroke="none"/>
<path d="M1876.5,1706.0 L1910.9,1711.1 M1875.2,1727.3 L1895.8,1732.8" stroke-width="2.5"/>
<path d="M1880.7,1707.4 C1880.0,1708.2 1877.6,1710.3 1876.5,1712.2 C1875.5,1714.1 1874.6,1716.5 1874.5,1719.1 C1874.4,1721.6 1875.6,1725.9 1875.9,1727.3" stroke-width="2.5"/>
<path d="M1849.1,1724.6 L1879.3,1745.2 L1866.9,1758.9 L1849.1,1734.9 Z" stroke-width="0.1" fill="#fff" stroke="none"/>
<path d="M1861.4,1714.9 L1880.7,1745.2 M1849.1,1734.9 L1866.9,1758.9" stroke-width="2.5"/>
<path d="M1850.4,1725.9 C1851.1,1725.2 1852.7,1722.7 1854.6,1721.8 C1856.4,1720.9 1859.4,1720.4 1861.4,1720.4 C1863.5,1720.4 1866.0,1721.6 1866.9,1721.8" stroke-width="2.5"/>
<path d="M1945.2,1704.0 C1950.6,1705.2 1987.0,1716.2 1991.9,1717.7 C1996.8,1719.2 2000.2,1720.1 2004.3,1721.8 C2008.4,1723.5 2036.0,1734.7 2041.4,1738.3 C2046.8,1741.8 2065.6,1759.7 2068.8,1764.4 C2072.1,1769.1 2079.0,1789.6 2079.8,1794.6 C2080.6,1799.7 2079.5,1821.4 2078.5,1824.8 C2077.4,1828.3 2069.8,1834.3 2067.5,1835.8 C2065.2,1837.3 2054.1,1842.5 2051.0,1842.7 C2047.9,1842.9 2035.5,1841.1 2030.4,1838.6 C2025.2,1836.1 1996.6,1815.6 1989.2,1812.5 C1981.7,1809.4 1946.8,1803.3 1941.1,1801.5 C1935.4,1799.7 1923.0,1792.1 1920.5,1790.5 C1918.0,1788.9 1913.1,1785.1 1910.9,1782.3 C1908.7,1779.4 1895.7,1760.4 1894.4,1756.2 C1893.1,1751.9 1894.4,1735.2 1895.8,1731.4 C1897.1,1727.7 1908.2,1713.2 1910.9,1710.8 C1913.5,1708.4 1924.5,1703.2 1927.4,1702.6 C1930.2,1702.0 1939.8,1702.7 1945.2,1704.0 Z" stroke-width="0.1" fill="#fff" stroke="none"/>
<path d="M1910.9,1710.8 C1912.5,1710.0 1923.9,1703.3 1927.4,1702.6 C1930.8,1701.9 1938.8,1702.2 1945.2,1703.7 C1951.7,1705.2 1986.0,1715.9 1991.9,1717.7 C1997.8,1719.5 1999.3,1719.8 2004.3,1721.8 C2009.2,1723.9 2034.9,1734.0 2041.4,1738.3 C2047.8,1742.6 2065.0,1758.8 2068.8,1764.4 C2072.7,1770.0 2078.9,1788.6 2079.8,1794.6 C2080.8,1800.7 2079.7,1820.7 2078.5,1824.8 C2077.2,1829.0 2070.2,1834.0 2067.5,1835.8 C2064.7,1837.6 2054.0,1842.3 2051.0,1842.7 C2048.0,1843.1 2038.6,1840.2 2037.3,1839.9" stroke-width="2.6"/>
<path d="M1943.8,1712.2 C1948.8,1713.3 1987.8,1721.5 1993.3,1723.2 C1998.8,1724.8 1994.4,1726.2 1998.8,1728.7 C2003.2,1731.2 2030.7,1743.5 2037.3,1747.9 C2043.8,1752.3 2061.2,1767.7 2064.7,1772.6 C2068.3,1777.6 2072.4,1792.4 2073.0,1797.4 C2073.5,1802.3 2071.6,1818.2 2070.2,1822.1 C2068.8,1825.9 2060.3,1834.5 2059.2,1835.8" stroke-width="2.5"/>
<path d="M1943.8,1705.3 L1948.0,1712.2 M1994.7,1719.1 L1991.9,1724.6 M2034.5,1746.5 L2040.0,1742.4" stroke-width="2.4"/>
<path d="M1990.3,1725.9 L1990.3,1780.9 M1996.7,1728.7 L1996.7,1775.4" stroke-width="2.5"/>
<path d="M1910.9,1782.3 C1912.5,1783.6 1915.5,1787.3 1920.5,1790.5 C1925.5,1793.7 1929.7,1797.8 1941.1,1801.5 C1952.5,1805.1 1981.2,1810.6 1989.2,1812.5" stroke-width="2.5"/>
<path d="M1895.8,1731.4 C1896.2,1729.8 1896.5,1724.8 1898.5,1721.8 C1900.6,1718.8 1904.5,1715.4 1908.1,1713.6 C1911.8,1711.7 1916.1,1711.3 1920.5,1710.8 C1924.8,1710.4 1930.3,1710.6 1934.2,1710.8 C1938.1,1711.1 1942.2,1712.0 1943.8,1712.2" stroke-width="2.6"/>
<path d="M1880.7,1746.5 C1879.3,1746.8 1874.7,1746.5 1872.4,1747.9 C1870.1,1749.3 1867.4,1751.6 1866.9,1754.8 C1866.5,1758.0 1866.5,1763.5 1869.7,1767.1 C1872.9,1770.8 1880.0,1774.5 1886.2,1776.8 C1892.3,1779.0 1899.9,1780.4 1906.8,1780.9 C1913.6,1781.3 1920.5,1780.7 1927.4,1779.5 C1934.2,1778.4 1942.7,1776.5 1948.0,1774.0 C1953.2,1771.5 1956.9,1767.6 1959.0,1764.4 C1961.0,1761.2 1961.0,1758.0 1960.3,1754.8 C1959.6,1751.6 1958.0,1748.1 1954.8,1745.2 C1951.6,1742.2 1945.7,1738.1 1941.1,1736.9 C1936.5,1735.8 1930.6,1736.9 1927.4,1738.3 C1924.2,1739.7 1923.0,1742.0 1921.9,1745.2 C1920.7,1748.4 1920.7,1755.5 1920.5,1757.5" stroke-width="2.6"/>
<path d="M1895.8,1731.4 C1895.5,1733.3 1894.5,1739.2 1894.4,1742.4 C1894.3,1745.6 1894.2,1748.4 1895.1,1750.7 C1896.0,1752.9 1897.5,1755.0 1899.9,1756.2 C1902.3,1757.3 1906.1,1757.6 1909.5,1757.8 C1912.9,1758.0 1918.7,1757.6 1920.5,1757.5" stroke-width="2.6"/>
<path d="M1926.0,1742.4 C1927.1,1742.6 1930.8,1742.9 1932.9,1743.8 C1934.9,1744.7 1938.4,1746.5 1938.4,1747.9 C1938.4,1749.3 1934.9,1751.0 1932.9,1752.0 C1930.8,1753.1 1927.1,1753.8 1926.0,1754.1" stroke-width="2.4"/>
<path d="M1928.7,1742.4 L1928.7,1753.4" stroke-width="2.2"/>
<path d="M1959.0,1754.8 C1960.0,1755.5 1963.9,1757.1 1965.1,1758.9 C1966.3,1760.7 1966.7,1763.5 1966.1,1765.8 C1965.5,1768.1 1964.0,1770.8 1961.7,1772.6 C1959.4,1774.5 1953.7,1776.1 1952.1,1776.8" stroke-width="2.4"/>
<path d="M1946.6,1772.6 L1961.7,1769.9" stroke-width="2.2"/>
<path d="M1998.8,1772.6 C1999.9,1763.1 2017.5,1764.4 2023.5,1764.4 C2029.6,1764.4 2040.1,1769.2 2044.1,1772.6 C2048.2,1776.1 2052.3,1784.5 2053.7,1790.5 C2055.2,1796.5 2056.0,1812.5 2055.1,1818.0 C2054.2,1823.5 2050.2,1829.0 2046.9,1831.7 C2043.6,1834.5 2034.6,1838.0 2030.4,1838.6 C2026.2,1839.1 2019.5,1844.6 2015.3,1835.8 C2011.1,1827.0 1997.7,1782.2 1998.8,1772.6 Z" stroke-width="2.6" fill="#fff"/>
<path d="M2009.8,1777.4 C2012.3,1779.2 2021.1,1783.1 2024.9,1787.7 C2028.7,1792.4 2031.1,1799.4 2032.4,1805.6 C2033.8,1811.8 2034.4,1819.3 2033.1,1824.8 C2031.9,1830.3 2026.3,1836.3 2024.9,1838.6" stroke-width="4"/>
<path d="M1986.4,1787.7 C1987.4,1784.5 1990.9,1780.8 1993.3,1779.5 C1995.7,1778.2 2001.2,1777.6 2004.3,1778.1 C2007.4,1778.7 2013.7,1780.9 2016.6,1783.6 C2019.6,1786.4 2024.6,1794.3 2026.3,1798.7 C2027.9,1803.1 2029.4,1812.2 2029.0,1816.6 C2028.6,1821.0 2025.7,1829.0 2023.5,1831.7 C2021.3,1834.5 2015.6,1836.8 2012.5,1837.2 C2009.4,1837.6 2003.1,1836.5 2000.2,1834.5 C1997.2,1832.4 1992.5,1826.1 1990.5,1822.1 C1988.6,1818.1 1986.3,1808.8 1985.7,1804.2 C1985.2,1799.7 1985.4,1791.0 1986.4,1787.7 Z" stroke-width="2.8" fill="#fff"/>
<path d="M1998.8,1797.4 C1999.8,1795.4 2003.6,1793.9 2005.7,1793.9 C2007.7,1793.9 2012.1,1795.4 2013.9,1797.4 C2015.7,1799.3 2018.8,1805.6 2019.4,1808.4 C2019.9,1811.1 2019.1,1816.2 2018.0,1818.0 C2016.9,1819.7 2013.2,1821.4 2011.2,1821.4 C2009.1,1821.4 2004.7,1819.7 2002.9,1818.0 C2001.2,1816.2 1998.7,1811.1 1998.1,1808.4 C1997.6,1805.6 1997.8,1799.3 1998.8,1797.4 Z" stroke-width="3.8"/>
<path d="M2003.6,1802.9 L2009.8,1798.7 L2015.3,1802.9 L2015.3,1812.5 L2009.8,1816.6 L2004.3,1812.5 Z" stroke-width="2.4"/>
<path d="M1075.0,863.0 C1076.0,867.2 1078.0,872.7 1080.8,888.5 C1083.6,904.3 1088.8,936.1 1091.6,957.9 C1094.4,979.7 1096.3,1002.5 1097.8,1019.5 C1099.3,1036.5 1099.7,1044.9 1100.5,1060.0 C1101.3,1075.1 1101.5,1093.3 1102.4,1110.0 C1103.3,1126.7 1105.2,1145.2 1105.8,1160.0 C1106.4,1174.8 1106.0,1180.2 1106.0,1198.5 C1106.0,1216.8 1105.8,1247.2 1105.5,1270.0 C1105.2,1292.8 1105.6,1320.0 1104.3,1335.4 C1103.0,1350.9 1098.9,1358.2 1097.8,1362.7 L1087,1364.5 L1076.2,1364.2 C1074.4,1352.7 1069.2,1321.9 1065.4,1294.9 C1061.6,1267.9 1056.2,1233.2 1053.1,1202.4 C1050.0,1171.6 1048.6,1135.4 1047.0,1110.0 C1045.4,1084.6 1044.3,1072.8 1043.5,1050.0 C1042.7,1027.2 1042.4,996.4 1042.3,973.3 C1042.2,950.2 1042.6,928.8 1043.1,911.6 C1043.5,894.4 1044.7,876.9 1045.0,870.0 Q1046,857.5 1052,857.5 L1068,857 Q1073,857 1075,863 Z" stroke-width="2.8" fill="#fff"/>
<path d="M1046.5,930.0 C1046.4,937.2 1045.7,954.7 1045.8,973.0 C1045.9,991.3 1046.2,1017.2 1047.0,1040.0 C1047.8,1062.8 1049.0,1086.7 1050.5,1110.0 C1052.0,1133.3 1054.1,1158.3 1056.0,1180.0 C1057.9,1201.7 1059.7,1220.0 1062.0,1240.0 C1064.3,1260.0 1067.2,1280.0 1070.0,1300.0 C1072.8,1320.0 1077.5,1350.0 1079.0,1360.0" stroke-width="2.2"/>
<path d="M1053.0,859.0 C1054.0,862.5 1056.9,871.2 1059.0,880.0 C1061.1,888.8 1063.1,896.1 1065.4,911.6 C1067.8,927.1 1071.1,956.9 1073.1,973.3 C1075.1,989.7 1076.2,997.2 1077.5,1010.0 C1078.8,1022.8 1079.7,1033.6 1080.8,1050.3 C1081.9,1067.0 1083.2,1091.7 1083.9,1110.0 C1084.6,1128.3 1084.5,1143.3 1085.0,1160.0 C1085.5,1176.7 1086.3,1193.3 1087.0,1210.0 C1087.7,1226.7 1088.7,1251.7 1089.0,1260.0" stroke-width="2.6"/>
<path d="M1077.0,1000.0 C1077.7,1008.3 1079.7,1031.7 1081.0,1050.0 C1082.3,1068.3 1084.0,1091.7 1085.0,1110.0 C1086.0,1128.3 1086.7,1151.7 1087.0,1160.0" stroke-width="2.0"/>
<path d="M1046.0,950.0 C1046.5,946.7 1047.4,935.0 1049.0,930.0 C1050.6,925.0 1053.6,919.7 1055.4,920.0 C1057.2,920.3 1058.3,923.1 1060.0,932.0 C1061.7,940.9 1064.0,960.3 1065.4,973.3 C1066.8,986.3 1067.7,999.7 1068.5,1010.0 C1069.3,1020.3 1069.6,1018.3 1070.0,1035.0 C1070.4,1051.7 1070.3,1089.2 1070.8,1110.0 C1071.3,1130.8 1072.1,1144.6 1073.0,1160.0 C1073.9,1175.4 1074.9,1185.1 1076.2,1202.4 C1077.5,1219.7 1080.0,1253.7 1080.8,1264.0" stroke-width="2.6"/>
<path d="M1069.5,975.0 C1070.0,980.8 1071.8,997.5 1072.5,1010.0 C1073.2,1022.5 1073.6,1033.3 1074.0,1050.0 C1074.4,1066.7 1074.5,1091.7 1075.0,1110.0 C1075.5,1128.3 1076.2,1145.0 1077.0,1160.0 C1077.8,1175.0 1079.1,1193.3 1079.5,1200.0" stroke-width="2.0"/>
<path d="M1088.5,1205.5 L1106.3,1205.5 M1089.0,1215.8 L1106.8,1215.8 M1089.5,1230.9 L1107.5,1230.9" stroke-width="2.6"/>
<path d="M1106.5,1200.0 L1113.0,1296.0" stroke-width="2.6"/>
<path d="M1078.0,1323.0 L1080.0,1330.0 L1095.0,1330.0 M1102.4,1325.7 L1097.8,1362.7" stroke-width="2.4"/>
<path d="M1088.0,1264.0 C1086.0,1264.7 1079.1,1265.8 1076.0,1268.0 C1072.9,1270.2 1070.5,1272.8 1069.2,1277.0 C1067.9,1281.2 1067.4,1288.7 1067.9,1293.4 C1068.4,1298.1 1070.4,1302.1 1072.0,1305.0 C1073.6,1307.9 1074.5,1309.0 1077.5,1311.0 C1080.5,1313.0 1087.8,1315.8 1089.8,1316.8" stroke-width="2.6"/>
<path d="M1112.5,1255.6 C1115.8,1255.9 1126.8,1256.6 1132.4,1257.7 C1138.0,1258.8 1142.3,1260.2 1146.0,1262.0 C1149.7,1263.8 1151.4,1266.0 1154.4,1268.7 C1157.4,1271.4 1161.1,1274.5 1164.0,1278.0 C1166.9,1281.5 1169.6,1286.5 1172.0,1290.0 C1174.4,1293.5 1177.3,1297.5 1178.4,1299.0" stroke-width="2.6"/>
<path d="M1113.2,1278.3 C1115.7,1278.5 1123.7,1278.6 1128.0,1279.5 C1132.3,1280.4 1136.3,1281.9 1139.3,1283.8 C1142.3,1285.7 1144.1,1288.2 1146.2,1290.7 C1148.3,1293.2 1150.3,1296.3 1152.0,1299.0 C1153.7,1301.7 1155.8,1305.8 1156.5,1307.1" stroke-width="2.6"/>
<path d="M1112.5,1255.6 L1113.2,1278.3" stroke-width="2.4"/>
<path d="M1139.3,1283.8 C1139.9,1282.5 1141.2,1278.0 1143.0,1276.0 C1144.8,1274.0 1147.7,1272.3 1150.0,1271.5 C1152.3,1270.7 1155.8,1271.1 1157.0,1271.0" stroke-width="2.2"/>
<path d="M1097.4,1294.8 C1097.0,1295.7 1095.3,1297.5 1094.8,1300.0 C1094.3,1302.5 1094.2,1306.5 1094.3,1310.0 C1094.4,1313.5 1095.1,1319.1 1095.3,1320.9 M1097.4,1294.8 L1150.3,1307.1 M1095.3,1320.9 L1148.9,1332.6" stroke-width="2.6"/>
<path d="M1160.7,1321.2 L1160.0,1322.3 L1159.3,1323.4 L1158.6,1324.4 L1157.8,1325.4 L1157.0,1326.3 L1156.2,1327.2 L1155.3,1328.1 L1154.5,1328.8 L1153.6,1329.5 L1152.7,1330.2 L1151.8,1330.8 L1150.9,1331.3 L1150.0,1331.7 L1149.1,1332.1 L1148.2,1332.3 L1147.4,1332.5 L1146.5,1332.6 L1145.7,1332.7 L1144.9,1332.6 L1144.2,1332.5 L1143.5,1332.3 L1142.8,1332.0 L1142.2,1331.6 L1141.6,1331.2 L1141.0,1330.7 L1140.5,1330.1 L1140.1,1329.4 L1139.7,1328.7 L1139.4,1327.9 L1139.1,1327.1 L1138.9,1326.2 L1138.8,1325.2 L1138.7,1324.2 L1138.7,1323.2 L1138.8,1322.1 L1138.9,1321.1 L1139.0,1319.9 L1139.3,1318.8 L1139.6,1317.6 L1139.9,1316.5 L1140.3,1315.3 L1140.8,1314.2 L1141.3,1313.0 L1141.9,1311.9 L1142.5,1310.8 L1143.2,1309.7 L1143.9,1308.6 L1144.6,1307.6 L1145.4,1306.6 L1146.2,1305.7 L1147.0,1304.8 L1147.9,1303.9 L1148.7,1303.2 L1149.6,1302.5 L1150.5,1301.8 L1151.4,1301.2 L1152.3,1300.7 L1153.2,1300.3 L1154.1,1299.9 L1155.0,1299.7 L1155.8,1299.5 L1156.7,1299.4 L1157.5,1299.3 L1158.3,1299.4 L1159.0,1299.5 L1159.7,1299.7 L1160.4,1300.0 L1161.0,1300.4 L1161.6,1300.8 L1162.2,1301.3 L1162.7,1301.9 L1163.1,1302.6 L1163.5,1303.3 L1163.8,1304.1 L1164.1,1304.9 L1164.3,1305.8 L1164.4,1306.8 L1164.5,1307.8 L1164.5,1308.8 L1164.4,1309.9 L1164.3,1310.9 L1164.2,1312.1 L1163.9,1313.2 L1163.6,1314.4 L1163.3,1315.5 L1162.9,1316.7 L1162.4,1317.8 L1161.9,1319.0 L1161.3,1320.1 L1160.7,1321.2 Z" stroke-width="2.4" fill="#fff"/>
<path d="M1179.3,1301.8 L1182.7,1300.4 L1230.0,1326.0 L1232.0,1333.0 L1227.7,1346.0 L1212.0,1358.0 L1194.5,1361.1 L1192.0,1360.0 L1152.0,1336.5 L1151.8,1327.0 L1154.2,1320.8 L1163.7,1312.7 Z" stroke-width="0.1" fill="#fff" stroke="none"/>
<path d="M1179.3,1301.8 C1176.7,1303.6 1167.8,1309.5 1163.7,1312.7 C1159.6,1315.9 1156.6,1318.2 1154.6,1320.8 C1152.6,1323.3 1152.2,1325.4 1151.8,1328.0 C1151.4,1330.6 1152.0,1335.1 1152.0,1336.5" stroke-width="2.6"/>
<path d="M1182.7,1300.4 L1230.0,1326.0 M1184.5,1303.6 L1219.6,1323.0" stroke-width="2.6"/>
<path d="M1165.6,1312.7 L1203.0,1334.5 M1152.0,1336.5 L1192.0,1360.0" stroke-width="2.6"/>
<path d="M1223.4,1350.1 L1222.6,1351.5 L1221.7,1352.8 L1220.8,1354.1 L1219.8,1355.3 L1218.8,1356.5 L1217.8,1357.6 L1216.7,1358.7 L1215.6,1359.6 L1214.5,1360.5 L1213.4,1361.3 L1212.2,1362.1 L1211.1,1362.7 L1210.0,1363.2 L1208.9,1363.7 L1207.8,1364.0 L1206.7,1364.3 L1205.6,1364.4 L1204.6,1364.5 L1203.6,1364.4 L1202.7,1364.2 L1201.8,1364.0 L1200.9,1363.6 L1200.1,1363.1 L1199.4,1362.6 L1198.7,1361.9 L1198.1,1361.2 L1197.5,1360.4 L1197.1,1359.5 L1196.7,1358.5 L1196.3,1357.4 L1196.1,1356.3 L1195.9,1355.1 L1195.8,1353.9 L1195.8,1352.6 L1195.9,1351.2 L1196.0,1349.9 L1196.2,1348.4 L1196.5,1347.0 L1196.9,1345.6 L1197.3,1344.1 L1197.8,1342.6 L1198.4,1341.2 L1199.1,1339.7 L1199.8,1338.3 L1200.6,1336.9 L1201.4,1335.5 L1202.3,1334.2 L1203.2,1332.9 L1204.2,1331.7 L1205.2,1330.5 L1206.2,1329.4 L1207.3,1328.3 L1208.4,1327.4 L1209.5,1326.5 L1210.6,1325.7 L1211.8,1324.9 L1212.9,1324.3 L1214.0,1323.8 L1215.1,1323.3 L1216.2,1323.0 L1217.3,1322.7 L1218.4,1322.6 L1219.4,1322.5 L1220.4,1322.6 L1221.3,1322.8 L1222.2,1323.0 L1223.1,1323.4 L1223.9,1323.9 L1224.6,1324.4 L1225.3,1325.1 L1225.9,1325.8 L1226.5,1326.6 L1226.9,1327.5 L1227.3,1328.5 L1227.7,1329.6 L1227.9,1330.7 L1228.1,1331.9 L1228.2,1333.1 L1228.2,1334.4 L1228.1,1335.8 L1228.0,1337.1 L1227.8,1338.6 L1227.5,1340.0 L1227.1,1341.4 L1226.7,1342.9 L1226.2,1344.4 L1225.6,1345.8 L1224.9,1347.3 L1224.2,1348.7 L1223.4,1350.1 Z" stroke-width="3.6" fill="#fff"/>
<path d="M1225.0,1342.0 L1224.5,1342.7 L1224.1,1343.4 L1223.6,1344.0 L1223.1,1344.7 L1222.6,1345.3 L1222.0,1345.9 L1221.5,1346.4 L1220.9,1346.9 L1220.3,1347.4 L1219.7,1347.8 L1219.1,1348.2 L1218.5,1348.5 L1217.9,1348.8 L1217.4,1349.0 L1216.8,1349.2 L1216.2,1349.4 L1215.7,1349.4 L1215.1,1349.5 L1214.6,1349.4 L1214.1,1349.3 L1213.7,1349.2 L1213.2,1349.0 L1212.8,1348.8 L1212.4,1348.5 L1212.1,1348.1 L1211.7,1347.8 L1211.4,1347.3 L1211.2,1346.8 L1211.0,1346.3 L1210.8,1345.8 L1210.7,1345.2 L1210.6,1344.6 L1210.5,1343.9 L1210.5,1343.2 L1210.6,1342.5 L1210.6,1341.8 L1210.8,1341.1 L1210.9,1340.3 L1211.1,1339.6 L1211.3,1338.8 L1211.6,1338.0 L1211.9,1337.3 L1212.2,1336.5 L1212.6,1335.8 L1213.0,1335.0 L1213.5,1334.3 L1213.9,1333.6 L1214.4,1333.0 L1214.9,1332.3 L1215.4,1331.7 L1216.0,1331.1 L1216.5,1330.6 L1217.1,1330.1 L1217.7,1329.6 L1218.3,1329.2 L1218.9,1328.8 L1219.5,1328.5 L1220.1,1328.2 L1220.6,1328.0 L1221.2,1327.8 L1221.8,1327.6 L1222.3,1327.6 L1222.9,1327.5 L1223.4,1327.6 L1223.9,1327.7 L1224.3,1327.8 L1224.8,1328.0 L1225.2,1328.2 L1225.6,1328.5 L1225.9,1328.9 L1226.3,1329.2 L1226.6,1329.7 L1226.8,1330.2 L1227.0,1330.7 L1227.2,1331.2 L1227.3,1331.8 L1227.4,1332.4 L1227.5,1333.1 L1227.5,1333.8 L1227.4,1334.5 L1227.4,1335.2 L1227.2,1335.9 L1227.1,1336.7 L1226.9,1337.4 L1226.7,1338.2 L1226.4,1339.0 L1226.1,1339.7 L1225.8,1340.5 L1225.4,1341.2 L1225.0,1342.0 Z" stroke-width="2.6"/>
<path d="M2270.9,947.4 L2086.3,1291.7" stroke-width="2.6"/>
<path d="M2696,1571 L2351,1773" stroke-width="2.6"/>
<path d="M2282,941 L2288.2,937.3 L2288.2,964" stroke-width="2.6"/>
<text x="2702" y="1585.8" font-size="38" fill="#000" stroke="none" textLength="20" lengthAdjust="spacingAndGlyphs">2</text>
</g>
<!--END-->
</svg>
</body></html>
